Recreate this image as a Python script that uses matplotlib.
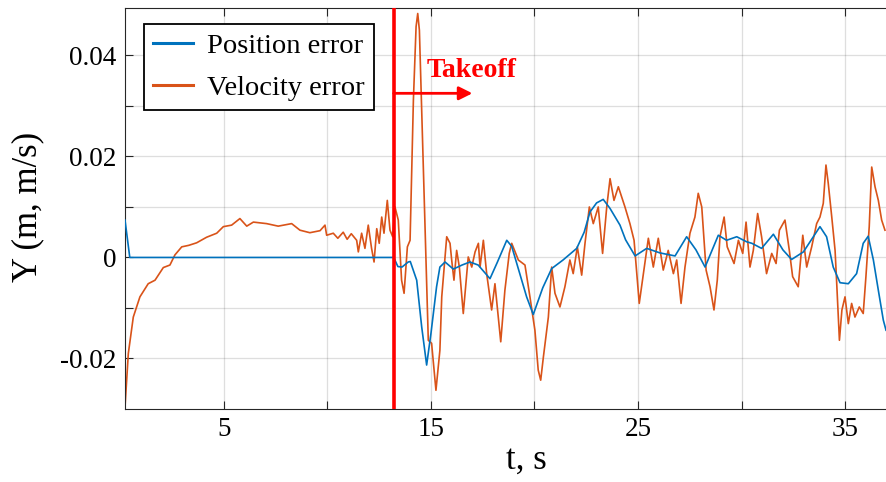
import matplotlib
matplotlib.use('Agg')
import matplotlib.pyplot as plt
import numpy as np

plt.rcParams['font.family'] = ['Liberation Serif', 'DejaVu Serif']

# ── Data ──────────────────────────────────────────────────────
pos_t = [0.22, 0.45, 5.0, 10.0, 13.2, 13.4, 13.6, 13.9, 14.0, 14.31, 14.55, 14.79,
         15.0, 15.27, 15.43, 15.68, 16.08, 16.5, 16.88, 17.28, 17.85, 18.2,
         18.66, 18.9, 19.62, 19.94, 20.4, 20.83, 21.38, 22.04, 22.4, 22.68, 23.0,
         23.32, 23.65, 24.13, 24.4, 24.86, 25.42, 26.06, 26.79, 27.35, 27.8, 28.24,
         28.88, 29.28, 29.77, 30.25, 30.5, 30.97, 31.54, 32.0, 32.42, 32.99, 33.79,
         34.11, 34.43, 34.76, 35.16, 35.56, 35.88, 36.12, 36.37, 36.61, 36.85, 36.98]
pos_err = [0.0074, 0.0, 0.0, 0.0, 0.0, -0.0018, -0.0019, -0.0009, -0.0008, -0.0045,
           -0.0137, -0.0213, -0.015, -0.0058, -0.0019, -0.0009, -0.0023, -0.0015,
           -0.0009, -0.0015, -0.0042, -0.001, 0.0034, 0.0022, -0.0078, -0.0113,
           -0.006, -0.0022, -0.0005, 0.0018, 0.005, 0.009, 0.0108, 0.0115,
           0.0097, 0.0064, 0.0035, 0.0003, 0.0018, 0.0009, 0.0003, 0.0041, 0.0015,
           -0.0019, 0.0044, 0.0034, 0.0041, 0.0031, 0.0028, 0.0018, 0.0046, 0.0015,
           -0.0004, 0.0011, 0.0061, 0.0041, -0.0019, -0.005, -0.0052, -0.0032,
           0.0028, 0.0042, -0.0005, -0.0065, -0.0124, -0.0144]

vel_t = [0.22, 0.38, 0.62, 0.94, 1.34, 1.67, 2.07, 2.39, 2.63, 2.96, 3.3, 3.68, 4.16,
         4.65, 4.97, 5.37, 5.77, 6.1, 6.42, 7.06, 7.62, 8.27, 8.67, 9.15, 9.64, 9.88,
         9.96, 10.28, 10.5, 10.76, 10.95, 11.15, 11.41, 11.49, 11.65, 11.81, 11.97,
         12.13, 12.25, 12.38, 12.5, 12.62, 12.73, 12.89, 13.02, 13.15, 13.26, 13.42,
         13.58, 13.7, 13.86, 13.99, 14.15, 14.28, 14.36, 14.44, 14.63, 14.87, 15.03,
         15.24, 15.43, 15.52, 15.76, 15.92, 16.0, 16.11, 16.24, 16.37, 16.56, 16.8,
         16.97, 17.13, 17.29, 17.37, 17.53, 17.69, 17.93, 18.09, 18.37, 18.57,
         18.78, 18.9, 19.22, 19.54, 19.78, 20.02, 20.18, 20.3, 20.43, 20.67, 20.83,
         20.99, 21.23, 21.47, 21.71, 21.87, 22.07, 22.28, 22.44, 22.65, 22.84, 23.08,
         23.29, 23.49, 23.65, 23.84, 24.05, 24.37, 24.61, 24.81, 24.94, 25.06, 25.26,
         25.5, 25.74, 25.98, 26.22, 26.46, 26.71, 26.87, 27.08, 27.27, 27.51, 27.75,
         27.91, 28.08, 28.29, 28.48, 28.67, 28.83, 28.96, 29.16, 29.31, 29.64, 29.85,
         30.06, 30.22, 30.41, 30.57, 30.78, 30.97, 31.21, 31.46, 31.67, 31.83, 32.1,
         32.31, 32.47, 32.74, 32.96, 33.15, 33.39, 33.63, 33.79, 33.95, 34.08, 34.19,
         34.36, 34.52, 34.6, 34.73, 34.85, 35.0, 35.16, 35.32, 35.48, 35.69, 35.88,
         36.01, 36.17, 36.29, 36.45, 36.61, 36.77, 36.93]
vel_err = [-0.0296, -0.019, -0.0118, -0.0078, -0.0052, -0.0045, -0.002, -0.0015, 0.0005,
           0.0021, 0.0024, 0.0029, 0.004, 0.0048, 0.0061, 0.0064, 0.0077, 0.0062, 0.007,
           0.0067, 0.0062, 0.0067, 0.0054, 0.0049, 0.0053, 0.0064, 0.0044, 0.0048,
           0.0038, 0.0050, 0.0036, 0.0047, 0.0034, 0.0011, 0.0048, 0.0018, 0.0064,
           0.0018, -0.0009, 0.0057, 0.0028, 0.008, 0.0048, 0.0113, 0.0054, 0.0041,
           0.010, 0.0074, -0.0045, -0.0071, 0.0021, 0.0034, 0.0311, 0.0457, 0.0483,
           0.045, 0.0179, -0.0164, -0.017, -0.0263, -0.0184, -0.0078, 0.0041, 0.0028,
           -0.0005, -0.0045, 0.0014, -0.0019, -0.0111, 0.0001, -0.0019, 0.0011, 0.0028,
           -0.0019, 0.0034, -0.0032, -0.0104, -0.0052, -0.0167, -0.0065, 0.0008,
           0.0028, -0.0005, -0.0015, -0.0078, -0.0144, -0.0223, -0.0243, -0.0197,
           -0.0118, -0.0019, -0.0071, -0.0098, -0.0058, -0.0005, -0.0032, 0.0021,
           -0.0035, 0.0028, 0.010, 0.0067, 0.010, 0.0008, 0.010, 0.0156, 0.0113, 0.014,
           0.010, 0.0067, 0.0034, -0.0032, -0.0091, -0.0032, 0.0038, -0.0019, 0.0038,
           -0.0025, 0.0014, -0.0032, -0.0005, -0.0091, -0.0019, 0.0048, 0.008, 0.0127,
           0.010, -0.0025, -0.0058, -0.0104, -0.0045, 0.0041, 0.008, 0.0021, -0.0012,
           0.0034, 0.0008, 0.007, -0.0019, 0.0014, 0.0087, 0.0041, -0.0032, 0.0008,
           -0.0012, 0.0054, 0.0074, 0.0014, -0.0038, -0.0058, 0.0044, -0.0019, 0.0021,
           0.0067, 0.008, 0.0107, 0.0183, 0.0147, 0.008, 0.0014, -0.0052, -0.0164,
           -0.0104, -0.0078, -0.0131, -0.0091, -0.0118, -0.0098, -0.0111, -0.0038,
           0.0061, 0.0179, 0.014, 0.0113, 0.0074, 0.0054]

takeoff_t = 13.2
arrow_end_t = 17.0
arrow_y = 0.0325

x_ticks = [5, 10, 15, 20, 25, 30, 35]
x_labels = ['5', '', '15', '', '25', '', '35']
y_ticks = [-0.02, -0.01, 0, 0.01, 0.02, 0.03, 0.04]
y_labels = ['-0.02', '', '0', '', '0.02', '', '0.04']

# ── Figure ────────────────────────────────────────────────────
fig = plt.figure(figsize=(8.86, 4.82), dpi=100)
ax = fig.add_axes([0.1411, 0.1515, 0.8589, 0.8320])

ax.plot(pos_t, pos_err, color='#0072BD', lw=1.2, label='Position error', zorder=3)
ax.plot(vel_t, vel_err, color='#D95319', lw=1.2, label='Velocity error', zorder=2)

ax.axvline(takeoff_t, color='red', lw=2.6, zorder=4)
ax.annotate('', xy=(arrow_end_t, arrow_y), xytext=(takeoff_t, arrow_y),
            arrowprops=dict(arrowstyle='-|>', color='red', lw=2, mutation_scale=20,
                            shrinkA=0, shrinkB=0), zorder=4)
ax.text(14.8, 0.0371, 'Takeoff', color='red', fontsize=20, fontweight='bold',
        ha='left', va='center')

ax.set_xlim(0.22, 36.98)
ax.set_ylim(-0.030, 0.0494)
ax.set_xticks(x_ticks)
ax.set_xticklabels(x_labels)
ax.set_yticks(y_ticks)
ax.set_yticklabels(y_labels)
ax.tick_params(direction='in', length=6, width=0.8, color='#262626',
               labelsize=19.5, top=True, right=False, pad=6)
ax.grid(color='#262626', alpha=0.15, lw=0.9)
ax.set_axisbelow(True)
for side in ['left', 'bottom', 'top']:
    ax.spines[side].set_color('#262626')
    ax.spines[side].set_linewidth(0.8)
ax.spines['right'].set_visible(False)

ax.set_xlabel('t, s', fontsize=25)
ax.xaxis.label.set_va('center')
ax.xaxis.set_label_coords(0.528, -0.128)
ax.set_ylabel('Y (m, m/s)', fontsize=25)
ax.yaxis.label.set_va('center')
ax.yaxis.set_label_coords(-0.1275, 0.504)

leg = ax.legend(loc='upper left', bbox_to_anchor=(0.025, 0.960), fontsize=20.5,
                frameon=True, fancybox=False, edgecolor='black', framealpha=1,
                borderaxespad=0, borderpad=0.32, labelspacing=0.55,
                handlelength=1.4, handletextpad=0.5)
leg.get_frame().set_linewidth(1.3)
for h in leg.get_lines():
    h.set_linewidth(2.2)

plt.savefig('out.png', dpi=100)
plt.close()
